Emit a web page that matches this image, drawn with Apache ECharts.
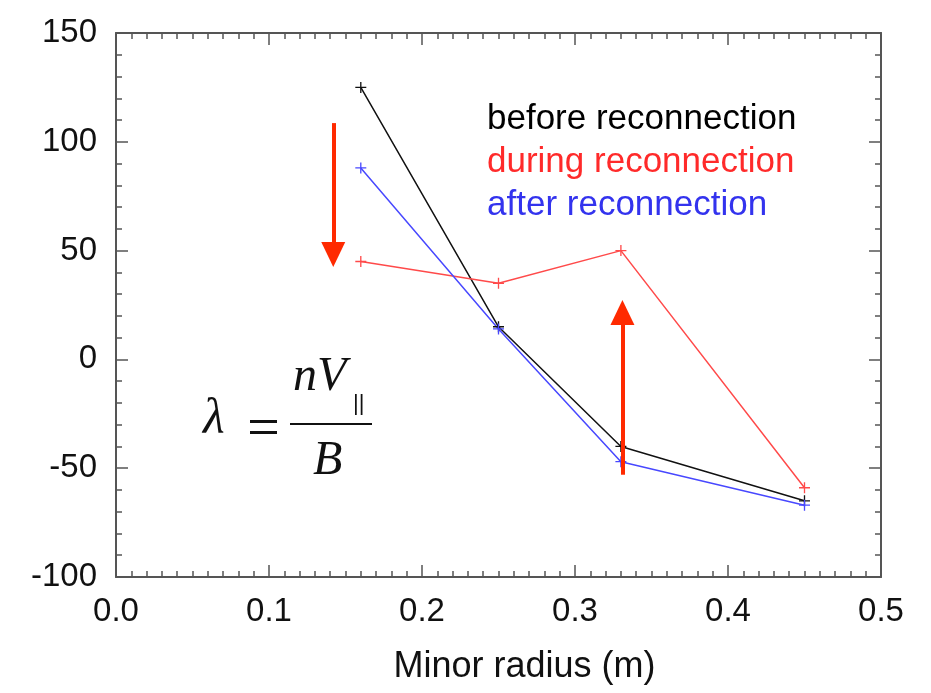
<!DOCTYPE html>
<html>
<head>
<meta charset="utf-8">
<script src="https://cdn.jsdelivr.net/npm/echarts@6/dist/echarts.min.js"></script>
<style>
  html, body { margin: 0; padding: 0; background: #fff; }
  #chart { width: 931px; height: 693px; }
</style>
</head>
<body>
<div id="chart"></div>
<script>
// 数据部分
var radius = [0.16, 0.25, 0.33, 0.45];
var before = [125, 15, -40, -65];
var during = [45, 35, 50, -59];
var after = [88, 14, -47, -67];
var names = ['before reconnection', 'during reconnection', 'after reconnection'];
var xTicks = [0, 0.1, 0.2, 0.3, 0.4, 0.5];
var yTicks = [-100, -50, 0, 50, 100, 150];
// 箭头（数据坐标）: [x, 起点y, 终点y]
var arrowDown = [0.142, 108.6, 48.2];
var arrowUp = [0.331, -53, 21.6];

function pairs(ys) {
  var out = [];
  for (var i = 0; i < radius.length; i++) out.push([radius[i], ys[i]]);
  return out;
}

var plus = 'path://M4.4,0h1.2v10h-1.2zM0,4.4h10v1.2h-10z';
var axisColor = '#555';
var font = 'Liberation Sans, Arial, sans-serif';

function lineSeries(name, ys, color) {
  return {
    name: name,
    type: 'line',
    data: pairs(ys),
    symbol: plus,
    symbolSize: 11,
    showSymbol: true,
    itemStyle: { color: color },
    lineStyle: { color: color, width: 1.5 },
    emphasis: { disabled: true },
    z: 3
  };
}

// 坐标轴公共样式（刻度朝内）
function axisStyle(split) {
  return {
    axisLine: { show: true, onZero: false, lineStyle: { color: axisColor, width: 2 } },
    axisTick: { show: true, inside: true, length: 12, lineStyle: { color: axisColor, width: 1.5 } },
    minorTick: { show: true, splitNumber: split, length: 6, lineStyle: { color: axisColor, width: 1.5 } },
    splitLine: { show: false }
  };
}

var chart = echarts.init(document.getElementById('chart'));

var option = {
  animation: false,
  backgroundColor: '#fff',
  grid: { left: 116, top: 33, right: 50, bottom: 116 },
  legend: {
    data: [
      { name: names[0], textStyle: { color: '#000' } },
      { name: names[1], textStyle: { color: '#ff2a2a' } },
      { name: names[2], textStyle: { color: '#3333ee' } }
    ],
    orient: 'vertical',
    left: 482,
    top: 98,
    icon: 'none',
    itemWidth: 0,
    itemHeight: 10,
    itemGap: 0,
    padding: 0,
    selectedMode: false,
    textStyle: { fontSize: 35, fontFamily: font, lineHeight: 43 }
  },
  xAxis: [
    Object.assign({
      type: 'value', min: xTicks[0], max: xTicks[xTicks.length - 1], interval: 0.1,
      axisLabel: {
        fontSize: 33, fontFamily: font, color: '#111', margin: 18,
        formatter: function (v) { return v.toFixed(1); }
      },
      name: 'Minor radius (m)',
      nameLocation: 'middle',
      nameGap: 72,
      nameTextStyle: { fontSize: 36, fontFamily: font, color: '#111', padding: [0, 0, 0, 52] }
    }, axisStyle(10)),
    Object.assign({
      type: 'value', position: 'top', min: xTicks[0], max: xTicks[xTicks.length - 1], interval: 0.1,
      axisLabel: { show: false }
    }, axisStyle(10))
  ],
  yAxis: [
    Object.assign({
      type: 'value', min: yTicks[0], max: yTicks[yTicks.length - 1], interval: 50,
      axisLabel: { fontSize: 33, fontFamily: font, color: '#111', margin: 19 }
    }, axisStyle(5)),
    Object.assign({
      type: 'value', position: 'right', min: yTicks[0], max: yTicks[yTicks.length - 1], interval: 50,
      axisLabel: { show: false }
    }, axisStyle(5))
  ],
  series: [
    lineSeries(names[0], before, '#111'),
    lineSeries(names[1], during, '#ff4a4a'),
    lineSeries(names[2], after, '#4848ff'),
    {
      // 红色箭头
      name: 'arrows',
      type: 'line',
      data: [],
      silent: true,
      z: 4,
      markLine: {
        silent: true,
        symbol: ['none', 'triangle'],
        symbolSize: [24, 25],
        label: { show: false },
        lineStyle: { color: '#ff2a00', width: 4, type: 'solid' },
        itemStyle: { color: '#ff2a00' },
        emphasis: { disabled: true },
        data: [
          [{ coord: [arrowDown[0], arrowDown[1]] }, { coord: [arrowDown[0], arrowDown[2]] }],
          [{ coord: [arrowUp[0], arrowUp[1]] }, { coord: [arrowUp[0], arrowUp[2]] }]
        ]
      }
    }
  ],
  graphic: [
    // λ = nV∥ / B
    { type: 'text', left: 203, top: 395, style: { text: 'λ', font: 'italic 50px "Liberation Serif", serif', fill: '#111' } },
    { type: 'rect', shape: { x: 250, y: 420, width: 27, height: 3 }, style: { fill: '#111' } },
    { type: 'rect', shape: { x: 250, y: 431, width: 27, height: 3 }, style: { fill: '#111' } },
    { type: 'text', left: 293, top: 353, style: { text: 'nV', font: 'italic 48px "Liberation Serif", serif', fill: '#111' } },
    { type: 'text', left: 353, top: 393, style: { text: '||', font: '22px "Liberation Sans", sans-serif', fill: '#111' } },
    { type: 'rect', shape: { x: 290, y: 423, width: 82, height: 2 }, style: { fill: '#111' } },
    { type: 'text', left: 313, top: 437, style: { text: 'B', font: 'italic 48px "Liberation Serif", serif', fill: '#111' } }
  ]
};
chart.setOption(option);
</script>
</body>
</html>
